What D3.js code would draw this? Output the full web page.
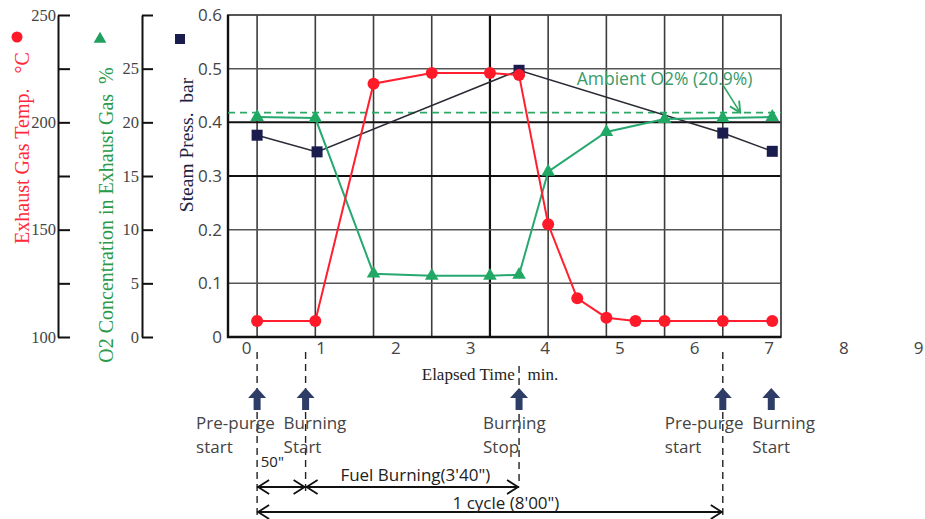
<!DOCTYPE html>
<html>
<head>
<meta charset="utf-8">
<script src="https://cdn.jsdelivr.net/npm/d3@7"></script>
<style>
body { margin: 0; background: #fff; }
svg { display: block; }
</style>
</head>
<body>
<svg width="925" height="519"></svg>
<script>
// elapsed time (min) from pre-purge start
const tempTime = [0, 1, 2, 3, 4, 4.5, 5, 5.5, 6, 6.5, 7, 8, 8.85];
const tempValue = [107.5, 107.5, 218, 223, 223, 222, 152.5, 118, 109, 107.5, 107.5, 107.5, 107.5];
const o2Time = [0, 1, 2, 3, 4, 4.5, 5, 6, 7, 8, 8.85];
const o2Value = [20.5, 20.4, 5.9, 5.7, 5.7, 5.8, 15.4, 19.1, 20.3, 20.4, 20.5];
const pressTime = [0, 1.03, 4.5, 8, 8.85];
const pressValue = [0.376, 0.345, 0.497, 0.38, 0.346];
const ambientO2 = 20.9;
const timeLabels = [0, 1, 2, 3, 4, 5, 6, 7, 8, 9];
const gridTimes = [0, 1, 2, 3, 4, 5, 6, 7, 8];
const tempTicks = [100, 125, 150, 175, 200, 225, 250];
const o2Ticks = [0, 5, 10, 15, 20, 25, 30];
const pressTicks = [0, 0.1, 0.2, 0.3, 0.4, 0.5, 0.6];
const eventTimes = [0, 0.833, 4.5, 8, 8.833];
const eventNames = [["Pre-purge", "start"], ["Burning", "Start"], ["Burning", "Stop"], ["Pre-purge", "start"], ["Burning", "Start"]];
const spanFrom = [0, 0.833, 0];
const spanTo = [0.833, 4.5, 8];
const spanNames = ['50"', "Fuel Burning(3'40\")", "1 cycle (8'00\")"];

// layout
const pLeft = 228, pRight = 781, pTop = 15, pBottom = 337;
const eventLabelDx = [-61, -22, -36, -58, -19];
const eventDash = [[352, 519], [352, 493], [366, 483], [352, 519], null];
const spanRowY = [487, 487, 512];
const spanLabelDx = [-9, 3, 16];
const spanLabelY = [467, 481, 509];

const svg = d3.select("svg");

const x = d3.scaleLinear().domain([-0.5, 9]).range([pLeft, pRight]);
const xLabel = d3.scaleLinear().domain([0, 9]).range([246, 918]);
const yPress = d3.scaleLinear().domain([0, 0.6]).range([pBottom, pTop]);
const yTemp = d3.scaleLinear().domain([100, 250]).range([pBottom, pTop]);
const yO2 = d3.scaleLinear().domain([0, 30]).range([pBottom, pTop]);

// grid
const grid = svg.append("g");
grid.selectAll(".vg").data(gridTimes).enter().append("line")
  .attr("x1", d => x(d)).attr("x2", d => x(d))
  .attr("y1", pTop).attr("y2", pBottom)
  .attr("stroke", d => d === 4 ? "#111" : "#3c3c3c")
  .attr("stroke-width", d => d === 4 ? 2.2 : 1.6);
grid.selectAll(".hg").data(pressTicks.slice(1, 6)).enter().append("line")
  .attr("x1", pLeft).attr("x2", pRight)
  .attr("y1", d => yPress(d)).attr("y2", d => yPress(d))
  .attr("stroke", d => (d === 0.3 || d === 0.4) ? "#111" : "#555")
  .attr("stroke-width", d => (d === 0.3 || d === 0.4) ? 2 : 1.5);
grid.append("rect")
  .attr("x", pLeft).attr("y", pTop)
  .attr("width", pRight - pLeft).attr("height", pBottom - pTop)
  .attr("fill", "none").attr("stroke", "#444").attr("stroke-width", 1.8);
grid.append("path")
  .attr("d", `M${pLeft},${pTop}V${pBottom}H${pRight}`)
  .attr("fill", "none").attr("stroke", "#111").attr("stroke-width", 2.4);

// left axes
const tempAxis = svg.append("g").attr("transform", "translate(58,0)")
  .call(d3.axisLeft(yTemp).tickValues(tempTicks).tickSizeInner(-12).tickSizeOuter(0).tickPadding(2)
    .tickFormat(d => d % 50 === 0 ? d : ""));
const o2Axis = svg.append("g").attr("transform", "translate(142,0)")
  .call(d3.axisLeft(yO2).tickValues(o2Ticks).tickSizeInner(-11).tickSizeOuter(0).tickPadding(3)
    .tickFormat(d => d === 30 ? "" : d));
[tempAxis, o2Axis].forEach(g => {
  g.selectAll("path, line").attr("stroke", "#111").attr("stroke-width", 2);
  g.selectAll("text").attr("font-family", "Liberation Serif").attr("font-size", 16.5).attr("fill", "#444");
});
const pressAxis = svg.append("g").attr("transform", `translate(${pLeft},0)`)
  .call(d3.axisLeft(yPress).tickValues(pressTicks).tickSize(0).tickPadding(6)
    .tickFormat(d => d === 0 ? "0" : d3.format(".1f")(d)));
pressAxis.select(".domain").remove();
pressAxis.selectAll("text").attr("font-family", "Open Sans").attr("font-size", 17).attr("fill", "#444");

const timeAxis = svg.append("g").attr("transform", `translate(0,${pBottom})`)
  .call(d3.axisBottom(xLabel).tickValues(timeLabels).tickSize(0).tickPadding(5));
timeAxis.select(".domain").remove();
timeAxis.selectAll("text").attr("font-family", "Open Sans").attr("font-size", 17).attr("fill", "#444");

// axis titles
svg.append("text").attr("transform", "translate(29,148) rotate(-90)")
  .attr("text-anchor", "middle").attr("font-family", "Liberation Serif").attr("font-size", 20)
  .attr("fill", "#ff2a3a").attr("xml:space", "preserve").text("Exhaust Gas Temp.   \u00b0C");
svg.append("text").attr("transform", "translate(113,215) rotate(-90)")
  .attr("text-anchor", "middle").attr("font-family", "Liberation Serif").attr("font-size", 20)
  .attr("fill", "#2a9a4a").attr("xml:space", "preserve").text("O2 Concentration in Exhaust Gas  %");
svg.append("text").attr("transform", "translate(193,145) rotate(-90)")
  .attr("text-anchor", "middle").attr("font-family", "Liberation Serif").attr("font-size", 19.5)
  .attr("fill", "#1c2240").attr("xml:space", "preserve").text("Steam Press.  bar");
svg.append("text").attr("x", 490).attr("y", 380)
  .attr("text-anchor", "middle").attr("font-family", "Liberation Serif").attr("font-size", 17)
  .attr("fill", "#222").attr("xml:space", "preserve").text("Elapsed Time   min.");

// legend markers above the titles
svg.append("circle").attr("cx", 17).attr("cy", 37).attr("r", 5.5).attr("fill", "#ff1a2a");
svg.append("path").attr("d", d3.symbol(d3.symbolTriangle, 70)())
  .attr("transform", "translate(100,39)").attr("fill", "#22a060");
svg.append("rect").attr("x", 175).attr("y", 34).attr("width", 10).attr("height", 10).attr("fill", "#1a1c4e");

// ambient O2 reference
svg.append("line")
  .attr("x1", pLeft).attr("x2", pRight)
  .attr("y1", yO2(ambientO2)).attr("y2", yO2(ambientO2))
  .attr("stroke", "#2fa765").attr("stroke-width", 1.8).attr("stroke-dasharray", "7,5");

// series
const tempData = tempTime.map((t, i) => [t, tempValue[i]]);
const o2Data = o2Time.map((t, i) => [t, o2Value[i]]);
const pressData = pressTime.map((t, i) => [t, pressValue[i]]);

svg.append("path").datum(pressData)
  .attr("d", d3.line().x(d => x(d[0])).y(d => yPress(d[1])))
  .attr("fill", "none").attr("stroke", "#2a2a35").attr("stroke-width", 1.5);
svg.append("path").datum(o2Data)
  .attr("d", d3.line().x(d => x(d[0])).y(d => yO2(d[1])))
  .attr("fill", "none").attr("stroke", "#26a870").attr("stroke-width", 2);
svg.append("path").datum(tempData)
  .attr("d", d3.line().x(d => x(d[0])).y(d => yTemp(d[1])))
  .attr("fill", "none").attr("stroke", "#ff1f2f").attr("stroke-width", 2);

svg.selectAll(".sq").data(pressData).enter().append("rect")
  .attr("x", d => x(d[0]) - 5.5).attr("y", d => yPress(d[1]) - 5.5)
  .attr("width", 11).attr("height", 11).attr("fill", "#1a1c4e");
svg.selectAll(".tri").data(o2Data).enter().append("path")
  .attr("d", d3.symbol(d3.symbolTriangle, 80)())
  .attr("transform", d => `translate(${x(d[0])},${yO2(d[1])})`)
  .attr("fill", "#22a865");
svg.selectAll(".dot").data(tempData).enter().append("circle")
  .attr("cx", d => x(d[0])).attr("cy", d => yTemp(d[1])).attr("r", 6)
  .attr("fill", "#ff1a2a");

// ambient annotation
svg.append("defs").append("marker")
  .attr("id", "open").attr("viewBox", "0 0 10 10").attr("refX", 9).attr("refY", 5)
  .attr("markerWidth", 9).attr("markerHeight", 9).attr("orient", "auto")
  .append("path").attr("d", "M1,1L9,5L1,9").attr("fill", "none").attr("stroke", "#2fa765").attr("stroke-width", 1.4);
svg.append("text").attr("x", x(7)).attr("y", yO2(24.0) + 6)
  .attr("text-anchor", "middle").attr("font-family", "Open Sans").attr("font-size", 17.5)
  .attr("fill", "#3a9a6a").text("Ambient O2% (20.9%)");
svg.append("line")
  .attr("x1", x(8.0)).attr("y1", yO2(23.5))
  .attr("x2", x(8.3)).attr("y2", yO2(ambientO2))
  .attr("stroke", "#2fa765").attr("stroke-width", 1.5).attr("marker-end", "url(#open)");

// event markers below the time axis
const ev = svg.append("g");
eventTimes.forEach((t, i) => {
  const cx = x(t);
  if (eventDash[i]) {
    ev.append("line").attr("x1", cx).attr("x2", cx)
      .attr("y1", eventDash[i][0]).attr("y2", eventDash[i][1])
      .attr("stroke", "#222").attr("stroke-width", 1.4).attr("stroke-dasharray", "7,5");
  }
  ev.append("path")
    .attr("d", "M0,-11L9,-1L3.5,-1L3.5,11L-3.5,11L-3.5,-1L-9,-1Z")
    .attr("transform", `translate(${cx},399)`)
    .attr("fill", "#2e3d66");
  const tx = ev.append("text").attr("x", cx + eventLabelDx[i]).attr("y", 429)
    .attr("font-family", "Open Sans").attr("font-size", 17).attr("fill", "#444");
  tx.append("tspan").text(eventNames[i][0]);
  tx.append("tspan").attr("x", cx + eventLabelDx[i]).attr("dy", 24).text(eventNames[i][1]);
});

// duration dimension lines
const sp = svg.append("g");
spanFrom.forEach((f, i) => {
  const x1 = x(f), x2 = x(spanTo[i]), y = spanRowY[i];
  sp.append("line").attr("x1", x1).attr("x2", x2).attr("y1", y).attr("y2", y)
    .attr("stroke", "#111").attr("stroke-width", 2);
  sp.append("path").attr("d", `M${x1 + 12},${y - 7}L${x1 + 1},${y}L${x1 + 12},${y + 7}`)
    .attr("fill", "none").attr("stroke", "#111").attr("stroke-width", 1.8);
  sp.append("path").attr("d", `M${x2 - 12},${y - 7}L${x2 - 1},${y}L${x2 - 12},${y + 7}`)
    .attr("fill", "none").attr("stroke", "#111").attr("stroke-width", 1.8);
  sp.append("text").attr("x", (x1 + x2) / 2 + spanLabelDx[i]).attr("y", spanLabelY[i])
    .attr("text-anchor", "middle").attr("font-family", "Open Sans")
    .attr("font-size", i === 0 ? 15 : 17).attr("fill", "#222").text(spanNames[i]);
});
</script>
</body>
</html>
